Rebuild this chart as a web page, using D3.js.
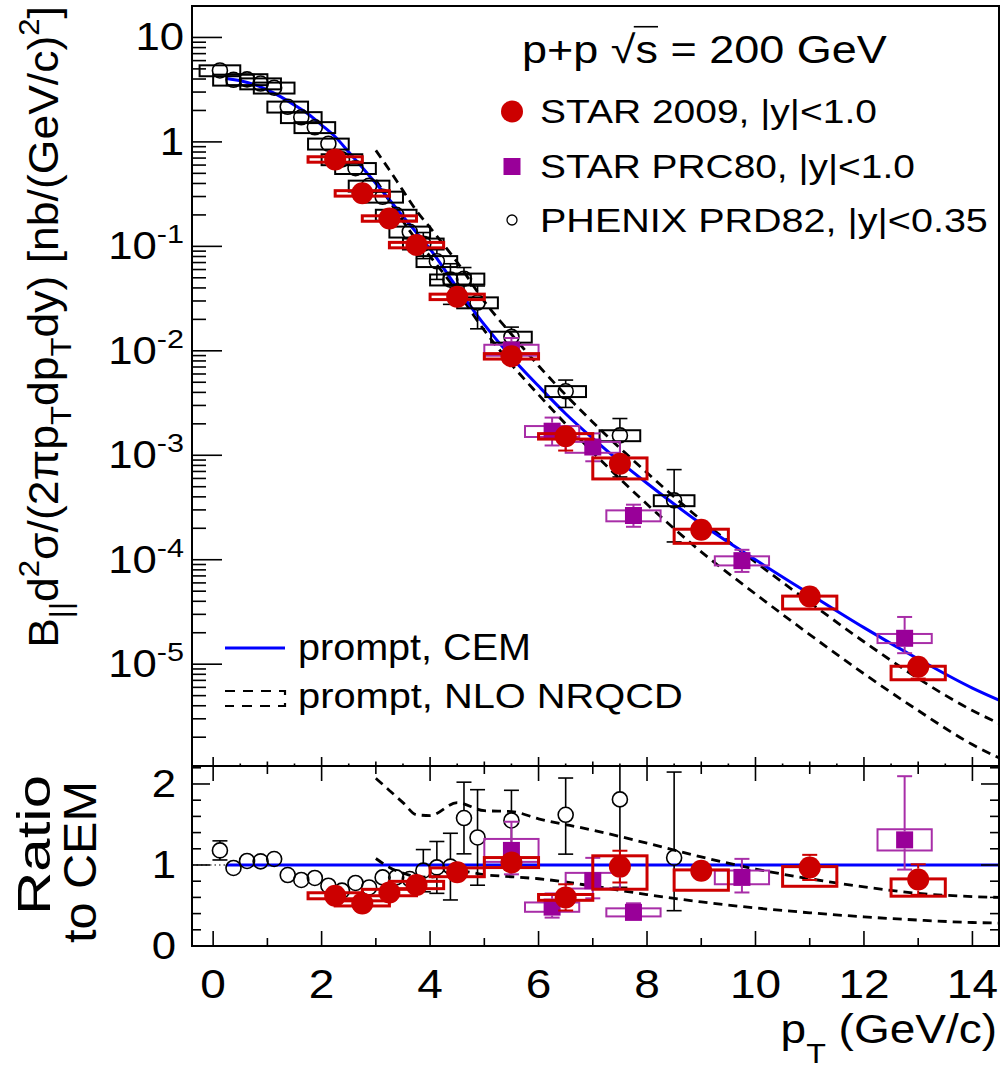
<!DOCTYPE html>
<html>
<head>
<meta charset="utf-8">
<script src="https://cdn.jsdelivr.net/npm/d3@7"></script>
<style>
  body { margin: 0; background: #fff; }
  text { font-family: "Liberation Sans", Arial, sans-serif; fill: #000; }
</style>
</head>
<body>
<svg id="chart" width="1004" height="1068"></svg>
<script>
// ---- data ----
// CEM prompt curve
const ptCEM = [0.25, 0.5, 0.75, 1.0, 1.25, 1.5, 1.75, 2.0, 2.25, 2.5, 2.75, 3.0, 3.25, 3.5, 3.75, 4.0, 4.5, 5.0, 5.5, 6.0, 6.5, 7.0, 7.5, 8.0, 9.0, 10.0, 11.0, 12.0, 13.0, 14.0, 14.5]
const cem = [4.05, 3.85, 3.55, 3.15, 2.7, 2.25, 1.85, 1.45, 1.12, 0.8, 0.57, 0.4, 0.28, 0.193, 0.135, 0.094, 0.04, 0.0178, 0.0087, 0.0046, 0.0025, 0.00145, 0.00087, 0.00054, 0.00022, 0.0001, 4.7e-5, 2.24e-5, 1.12e-5, 5.9e-6, 4.5e-6]

// NLO NRQCD band edges
const ptNRQCD = [3.0, 3.25, 3.5, 3.75, 4.0, 4.5, 5.0, 5.5, 6.0, 7.0, 8.0, 9.0, 10.0, 11.0, 12.0, 13.0, 14.0, 14.5]
const nrqcdHi = [0.83, 0.538, 0.342, 0.219, 0.151, 0.0704, 0.0297, 0.0144, 0.0072, 0.00207, 6.8e-4, 2.4e-4, 9.5e-5, 3.9e-5, 1.64e-5, 7.3e-6, 3.6e-6, 2.7e-6]
const nrqcdLo = [0.432, 0.272, 0.174, 0.115, 0.080, 0.037, 0.0157, 0.0074, 0.0038, 0.00107, 3.4e-4, 1.19e-4, 4.7e-5, 1.92e-5, 8.1e-6, 3.6e-6, 1.7e-6, 1.26e-6]
const nrqcdHiRatio = [2.07, 1.92, 1.77, 1.62, 1.61, 1.77, 1.67, 1.66, 1.57, 1.43, 1.27, 1.10, 0.95, 0.83, 0.73, 0.65, 0.61, 0.60]
const nrqcdLoRatio = [1.08, 0.97, 0.90, 0.855, 0.85, 0.93, 0.88, 0.855, 0.83, 0.74, 0.635, 0.545, 0.47, 0.41, 0.36, 0.32, 0.29, 0.283]

// STAR 2009
const ptStar = [2.25, 2.75, 3.25, 3.75, 4.5, 5.5, 6.5, 7.5, 9.0, 11.0, 13.0]
const star = [0.68, 0.322, 0.185, 0.103, 0.0329, 0.00887, 0.00152, 0.00083, 1.94e-4, 4.44e-5, 9.46e-6]
const starStat = [0.12, 0.08, 0.08, 0.08, 0.06, 0.06, 0.27, 0.2, 0.08, 0.16, 0.23]
const starSysLo = [0.06, 0.06, 0.06, 0.06, 0.06, 0.06, 0.06, 0.285, 0.26, 0.24, 0.25]
const starSysHi = [0.06, 0.06, 0.06, 0.06, 0.06, 0.06, 0.06, 0.136, 0.01, 0.01, 0.01]
const starRatio = [0.62, 0.526, 0.66, 0.753, 0.91, 1.03, 0.60, 0.98, 0.93, 0.97, 0.82]

// STAR PRC80
const ptPrc = [5.5, 6.25, 7.0, 7.75, 9.75, 12.75]
const prc = [0.0102, 0.0017, 0.0012, 2.65e-4, 9.8e-5, 1.77e-5]
const prcErrHi = [0.3, 0.35, 0.35, 0.27, 0.27, 0.6]
const prcErrLo = [0.25, 0.27, 0.27, 0.22, 0.22, 0.28]
const prcSys = [0.12, 0.12, 0.12, 0.12, 0.1, 0.1]
const prcRatio = [1.18, 0.48, 0.806, 0.415, 0.847, 1.31]

// PHENIX PRD82
const ptPhx = [0.125, 0.375, 0.625, 0.875, 1.125, 1.375, 1.625, 1.875, 2.125, 2.375, 2.625, 2.875, 3.125, 3.375, 3.625, 3.875, 4.125, 4.375, 4.625, 4.875, 5.5, 6.5, 7.5, 8.5]
const phx = [4.83, 3.93, 3.97, 3.62, 3.3, 2.17, 1.72, 1.38, 0.96, 0.68, 0.56, 0.38, 0.298, 0.2, 0.138, 0.106, 0.072, 0.048, 0.049, 0.029, 0.0136, 0.0041, 0.00155, 0.00037]
const phxErrHi = [0.1, 0.04, 0.04, 0.04, 0.04, 0.04, 0.04, 0.04, 0.05, 0.06, 0.1, 0.08, 0.08, 0.08, 0.08, 0.28, 0.33, 0.42, 0.28, 0.44, 0.24, 0.28, 0.45, 0.97]
const phxErrLo = [0.1, 0.04, 0.04, 0.04, 0.04, 0.04, 0.04, 0.04, 0.05, 0.06, 0.1, 0.08, 0.08, 0.08, 0.08, 0.28, 0.33, 0.42, 0.28, 0.44, 0.24, 0.3, 0.6, 0.6]
const phxSys = 0.12
const phxRatio = [1.18, 0.963, 1.05, 1.045, 1.074, 0.876, 0.815, 0.84, 0.744, 0.683, 0.778, 0.723, 0.847, 0.847, 0.827, 0.93, 0.97, 0.98, 1.58, 1.34, 1.55, 1.62, 1.81, 1.09]

// tick labels
const xTickLabels = [0, 2, 4, 6, 8, 10, 12, 14]
const yDecades = [-5, -4, -3, -2, -1, 0, 1]
const ratioTickLabels = [0, 1, 2]

// ---- layout ----
const L = 192, R = 999, T = 6, MID = 766, B = 946
const RED = "#cc0000", PURPLE = "#990099", PURPLE_LINE = "#a82ea8", BLUE = "#0000ff"
const SX = 1.15

const svg = d3.select("#chart")
svg.append("rect").attr("width", 1004).attr("height", 1068).attr("fill", "#fff")

const x = d3.scaleLinear().domain([-0.39, 14.49]).range([L, R])
const y = d3.scaleLog().domain([1.06e-6, 20]).range([MID, T])
const yr = d3.scaleLinear().domain([0, 2.222]).range([B, MID])

const defs = svg.append("defs")
defs.append("clipPath").attr("id", "clipTop").append("rect").attr("x", L).attr("y", T).attr("width", R - L).attr("height", MID - T)
defs.append("clipPath").attr("id", "clipBot").append("rect").attr("x", L).attr("y", MID).attr("width", R - L).attr("height", B - MID)

const gTop = svg.append("g").attr("clip-path", "url(#clipTop)")
const gBot = svg.append("g").attr("clip-path", "url(#clipBot)")

// text with sub/superscripts, stretched horizontally like the original
function label(parent, px, py, o) {
  const g = parent.append("g")
  const t = g.append("text").attr("font-size", o.size).attr("text-anchor", o.anchor || "start")
  let cur = 0
  o.parts.forEach(([s, m]) => {
    const off = m === "sub" ? o.size * (o.sub || 0.3) : m === "sup" ? -o.size * (o.sup || 0.42) : 0
    t.append("tspan").attr("dy", off - cur).attr("font-size", m ? o.size * 0.7 : o.size).text(s)
    cur = off
  })
  const n = t.node().getComputedTextLength()
  const k = o.len ? o.len / n : (o.k || SX)
  g.attr("transform", `translate(${px},${py})` + (o.rot ? ` rotate(${o.rot})` : "") + ` scale(${k},1)`)
  return { g, t }
}

// ---- curves ----
function curve(g, ys, pts, vals, dash, color, w) {
  g.append("path")
    .datum(pts.map((p, i) => [p, vals[i]]))
    .attr("d", d3.line().x(d => x(d[0])).y(d => ys(d[1])).curve(d3.curveMonotoneX))
    .attr("fill", "none").attr("stroke", color).attr("stroke-width", w)
    .attr("stroke-dasharray", dash)
}
curve(gTop, y, ptNRQCD, nrqcdHi, "9,6", "#000", 2.8)
curve(gTop, y, ptNRQCD, nrqcdLo, "9,6", "#000", 2.8)
curve(gTop, y, ptCEM, cem, null, BLUE, 3)

gBot.append("line").attr("x1", L).attr("x2", R).attr("y1", yr(1)).attr("y2", yr(1))
  .attr("stroke", "#000").attr("stroke-width", 1).attr("stroke-dasharray", "1.5,3")
gBot.append("line").attr("x1", x(ptCEM[0])).attr("x2", R).attr("y1", yr(1)).attr("y2", yr(1))
  .attr("stroke", BLUE).attr("stroke-width", 3)
curve(gBot, yr, ptNRQCD, nrqcdHiRatio, "9,6", "#000", 2.8)
curve(gBot, yr, ptNRQCD, nrqcdLoRatio, "9,6", "#000", 2.8)

// ---- data helpers ----
function boxes(g, ys, pt, v, lo, hi, half, color, sw) {
  g.append("g").selectAll("rect").data(pt).join("rect")
    .attr("x", d => x(d - half)).attr("width", d => x(d + half) - x(d - half))
    .attr("y", (d, i) => ys(v[i] * (1 + hi[i])))
    .attr("height", (d, i) => ys(v[i] * (1 - lo[i])) - ys(v[i] * (1 + hi[i])))
    .attr("fill", "none").attr("stroke", color).attr("stroke-width", sw)
}
function bars(g, ys, pt, v, lo, hi, r, color, sw) {
  const gg = g.append("g").attr("stroke", color).attr("stroke-width", sw)
  pt.forEach((p, i) => {
    const cx = x(p), cy = ys(v[i])
    const yt = ys(v[i] * (1 + hi[i])), yb = ys(v[i] * (1 - lo[i]))
    if (cy - yt > r) {
      gg.append("line").attr("x1", cx).attr("x2", cx).attr("y1", cy - r).attr("y2", yt)
      gg.append("line").attr("x1", cx - 7.5).attr("x2", cx + 7.5).attr("y1", yt).attr("y2", yt)
    }
    if (yb - cy > r) {
      gg.append("line").attr("x1", cx).attr("x2", cx).attr("y1", cy + r).attr("y2", yb)
      gg.append("line").attr("x1", cx - 7.5).attr("x2", cx + 7.5).attr("y1", yb).attr("y2", yb)
    }
  })
}
const fill = (n, v) => new Array(n).fill(v)

function drawPanel(g, ys, phxV, prcV, starV) {
  // PHENIX
  if (ys === y) boxes(g, ys, ptPhx, phxV, fill(ptPhx.length, phxSys), fill(ptPhx.length, phxSys), 0.375, "#000", 2)
  bars(g, ys, ptPhx, phxV, phxErrLo, phxErrHi, 7.5, "#000", 1.6)
  g.append("g").selectAll("circle").data(ptPhx).join("circle")
    .attr("cx", d => x(d)).attr("cy", (d, i) => ys(phxV[i])).attr("r", 7.5)
    .attr("fill", "none").attr("stroke", "#000").attr("stroke-width", 1.6)
  // STAR PRC80
  boxes(g, ys, ptPrc, prcV, prcSys, prcSys, 0.5, PURPLE_LINE, 2)
  bars(g, ys, ptPrc, prcV, prcErrLo, prcErrHi, 8.5, PURPLE_LINE, 2)
  g.append("g").selectAll("rect").data(ptPrc).join("rect")
    .attr("x", d => x(d) - 8.5).attr("y", (d, i) => ys(prcV[i]) - 8.5)
    .attr("width", 17).attr("height", 17).attr("fill", PURPLE)
  // STAR 2009
  boxes(g, ys, ptStar, starV, starSysLo, starSysHi, 0.5, RED, 3)
  bars(g, ys, ptStar, starV, starStat, starStat, 11, RED, 2)
  g.append("g").selectAll("circle").data(ptStar).join("circle")
    .attr("cx", d => x(d)).attr("cy", (d, i) => ys(starV[i])).attr("r", 11).attr("fill", RED)
}
drawPanel(gTop, y, phx, prc, star)
drawPanel(gBot, yr, phxRatio, prcRatio, starRatio)

// ---- axes ----
const ax = svg.append("g").attr("stroke", "#000").attr("stroke-width", 1.6)
function tick(x1, y1, x2, y2) { ax.append("line").attr("x1", x1).attr("y1", y1).attr("x2", x2).attr("y2", y2) }

// upper y (log)
for (let n = -6; n <= 1; n++) {
  for (let k = 1; k <= 9; k++) {
    const v = k * Math.pow(10, n)
    if (v < y.domain()[0] || v > y.domain()[1]) continue
    tick(L, y(v), L + (k === 1 ? 30 : 14), y(v))
  }
}
// upper x (bottom edge, ticks pointing up)
for (let p = 0; p <= 14.001; p += 0.5) {
  const len = Math.abs(p % 2) < 1e-6 ? 9 : Math.abs(p % 1) < 1e-6 ? 4.5 : 2.5
  tick(x(p), MID, x(p), MID - len)
}
// lower panel ticks
for (let p = 0; p <= 14.001; p += 1) {
  const len = p % 2 === 0 ? 15 : 8
  tick(x(p), B, x(p), B - len)
  tick(x(p), MID, x(p), MID + len)
}
for (let i = 0; i <= 11; i++) {
  const v = i * 0.2
  const len = (i % 5 === 0) ? 18 : 9
  tick(L, yr(v), L + len, yr(v))
  tick(R, yr(v), R - len, yr(v))
}
// frames
svg.append("rect").attr("x", L).attr("y", T).attr("width", R - L).attr("height", MID - T)
  .attr("fill", "none").attr("stroke", "#000").attr("stroke-width", 2)
svg.append("rect").attr("x", L).attr("y", MID).attr("width", R - L).attr("height", B - MID)
  .attr("fill", "none").attr("stroke", "#000").attr("stroke-width", 2)

// tick labels
yDecades.forEach(n => {
  const parts = n === 0 ? [["1"]] : n === 1 ? [["10"]] : [["10"], [String(n), "sup"]]
  label(svg, 184, y(Math.pow(10, n)) + 13, { size: 38, anchor: "end", parts })
})
ratioTickLabels.forEach(v => label(svg, 176, yr(v) + 13, { size: 38, anchor: "end", parts: [[String(v)]] }))
xTickLabels.forEach(p => label(svg, x(p), 998, { size: 40, anchor: "middle", parts: [[String(p)]] }))

// axis titles
label(svg, 997, 1043, { size: 40, anchor: "end", sub: 0.5, parts: [["p"], ["T", "sub"], [" (GeV/c)"]] })
label(svg, 58, 6, {
  size: 42, anchor: "end", rot: -90, len: 642, sub: 0.32, sup: 0.45,
  parts: [["B"], ["||", "sub"], ["d"], ["2", "sup"], ["σ/(2πp"], ["T", "sub"], ["dp"], ["T", "sub"],
          ["dy) [nb/(GeV/c)"], ["2", "sup"], ["]"]]
})
label(svg, 50, 845, { size: 46, anchor: "middle", rot: -90, len: 140, parts: [["Ratio"]] })
label(svg, 96, 862, { size: 46, anchor: "middle", rot: -90, len: 162, parts: [["to CEM"]] })

// ---- legends ----
const hdr = label(svg, 522, 63, { size: 39, len: 365, parts: [["p+p √s = 200 GeV"]] })
{
  const tn = hdr.t.node()
  const a = tn.getEndPositionOfChar(4).x, b = tn.getEndPositionOfChar(5).x
  hdr.g.append("line").attr("x1", a - 1.5).attr("x2", b).attr("y1", -39 * 0.93).attr("y2", -39 * 0.93)
    .attr("stroke", "#000").attr("stroke-width", 1.6)
}
label(svg, 540, 123, { size: 33, len: 337, parts: [["STAR 2009, |y|<1.0"]] })
label(svg, 540, 178, { size: 33, len: 375, parts: [["STAR PRC80, |y|<1.0"]] })
label(svg, 540, 232, { size: 33, len: 448, parts: [["PHENIX PRD82, |y|<0.35"]] })
svg.append("circle").attr("cx", 512).attr("cy", 111.5).attr("r", 11).attr("fill", RED)
svg.append("rect").attr("x", 503.5).attr("y", 158).attr("width", 17).attr("height", 17).attr("fill", PURPLE)
svg.append("circle").attr("cx", 512).attr("cy", 220).attr("r", 5).attr("fill", "none").attr("stroke", "#000").attr("stroke-width", 1.3)

svg.append("line").attr("x1", 225).attr("x2", 285).attr("y1", 648).attr("y2", 648).attr("stroke", BLUE).attr("stroke-width", 3)
svg.append("path").attr("d", "M225,691H285V706H225").attr("fill", "none")
  .attr("stroke", "#000").attr("stroke-width", 2.2).attr("stroke-dasharray", "10,8")
label(svg, 298, 660, { size: 36, len: 233, parts: [["prompt, CEM"]] })
label(svg, 298, 708, { size: 36, len: 385, parts: [["prompt, NLO NRQCD"]] })
</script>
</body>
</html>
